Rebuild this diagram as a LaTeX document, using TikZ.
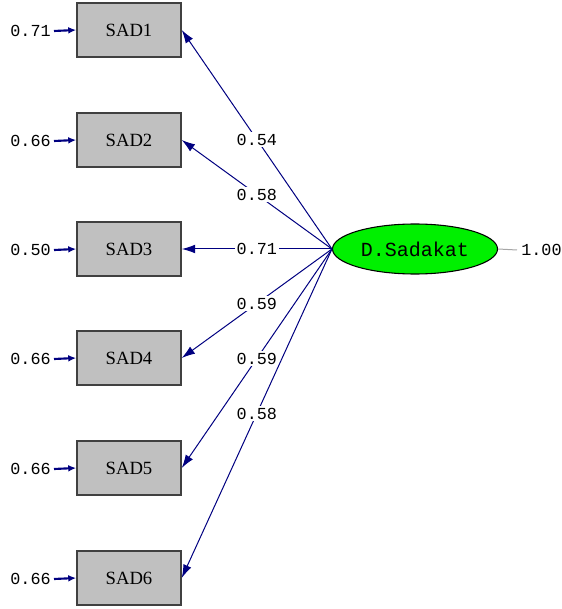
\documentclass[tikz,border=0pt]{standalone}
\usepackage{fontspec}
\setmainfont{Liberation Serif}
\setmonofont{Liberation Mono}
\usetikzlibrary{shapes.geometric,arrows.meta}
\definecolor{lineblue}{RGB}{0,0,128}
\definecolor{boxgray}{RGB}{192,192,192}
\definecolor{latgreen}{RGB}{0,240,0}

\begin{document}
\begin{tikzpicture}[x=0.75pt,y=-0.75pt,
  indicator/.style={draw=black!75,fill=boxgray,line width=1.1pt,
    minimum width=78pt,minimum height=40.5pt,inner sep=0pt,
    font=\fontsize{14}{14}\selectfont},
  latent/.style={ellipse,draw=black,fill=latgreen,line width=0.8pt,
    minimum width=123.75pt,minimum height=37.5pt,inner sep=0pt,
    font=\ttfamily\fontsize{15}{15}\selectfont},
  errlabel/.style={anchor=east,inner sep=0pt,font=\ttfamily\fontsize{12.6}{13}\selectfont},
  coef/.style={fill=white,inner sep=1.5pt,font=\ttfamily\fontsize{12.6}{13}\selectfont},
  loading/.style={draw=lineblue,line width=0.75pt,-{Latex[length=10pt,width=6.5pt]}},
  errpath/.style={draw=lineblue,line width=1.6pt,-{Latex[length=6pt,width=5pt]}}]
  \useasboundingbox (0,0) rectangle (561,609);

  % observed variables
  \node[indicator] (sad1) at (129,30) {SAD1};
  \node[indicator] (sad2) at (129,140) {SAD2};
  \node[indicator] (sad3) at (129,249) {SAD3};
  \node[indicator] (sad4) at (129,358) {SAD4};
  \node[indicator] (sad5) at (129,468) {SAD5};
  \node[indicator] (sad6) at (129,578) {SAD6};

  % latent variable
  \node[latent] (dsad) at (415,249) {D.Sadakat};
  \node[anchor=west,inner sep=0pt,font=\ttfamily\fontsize{12.6}{13}\selectfont] (var) at (521,250) {1.00};
  \draw[gray!70,line width=0.75pt] (dsad.east) -- ([xshift=-3pt]var.west);

  % error variances
  \node[errlabel] (e1) at (51,31) {0.71};
  \node[errlabel] (e2) at (51,141) {0.66};
  \node[errlabel] (e3) at (51,250) {0.50};
  \node[errlabel] (e4) at (51,359) {0.66};
  \node[errlabel] (e5) at (51,469) {0.66};
  \node[errlabel] (e6) at (51,579) {0.66};
  \draw[errpath] (e1.east) ++(3,0) -- (sad1.west);
  \draw[errpath] (e2.east) ++(3,0) -- (sad2.west);
  \draw[errpath] (e3.east) ++(3,0) -- (sad3.west);
  \draw[errpath] (e4.east) ++(3,0) -- (sad4.west);
  \draw[errpath] (e5.east) ++(3,0) -- (sad5.west);
  \draw[errpath] (e6.east) ++(3,0) -- (sad6.west);

  % loadings
  \draw[loading] (dsad.west) -- node[coef] {0.54} (sad1.east);
  \draw[loading] (dsad.west) -- node[coef] {0.58} (sad2.east);
  \draw[loading] (dsad.west) -- node[coef] {0.71} (sad3.east);
  \draw[loading] (dsad.west) -- node[coef] {0.59} (sad4.east);
  \draw[loading] (dsad.west) -- node[coef] {0.59} (sad5.east);
  \draw[loading] (dsad.west) -- node[coef] {0.58} (sad6.east);
\end{tikzpicture}
\end{document}
